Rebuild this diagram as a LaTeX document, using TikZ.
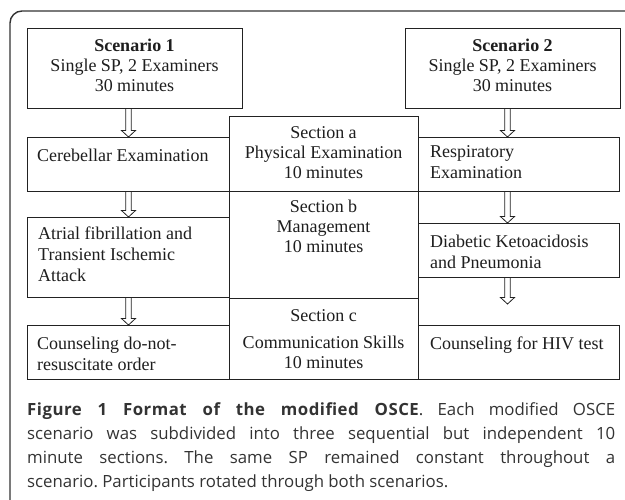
\documentclass[tikz,border=0pt]{standalone}
\usepackage{fontspec}
\setmainfont{Liberation Serif}
\newfontfamily\capfont{Open Sans}
\usetikzlibrary{calc}
\definecolor{boxline}{HTML}{222222}
\definecolor{textcol}{HTML}{1E1E1E}
\definecolor{captext}{HTML}{333333}
\definecolor{framecol}{HTML}{333333}
\frenchspacing
\begin{document}
\begin{tikzpicture}[x=1pt,y=-1pt,
  box/.style={draw=boxline, line width=1pt, rectangle, inner sep=0pt, anchor=north west},
  txt/.style={inner sep=0pt, text=textcol, font=\fontsize{18}{21}\selectfont},
  ltxt/.style={txt, align=left, anchor=north west},
  ctxt/.style={txt, align=center, anchor=north, font=\fontsize{18}{20}\selectfont},
  blockarrow/.style={draw=boxline, line width=0.8pt, line join=miter, to path={
    let \p1=(\tikztostart), \p2=(\tikztotarget) in
    (\x1-2.8pt,\y1) -- (\x1-2.8pt,\y2+6.5pt) -- (\x1-7pt,\y2+6.5pt) -- (\x1,\y2)
    -- (\x1+7pt,\y2+6.5pt) -- (\x1+2.8pt,\y2+6.5pt) -- (\x1+2.8pt,\y1)}},
  capnode/.style={inner sep=0pt, anchor=north west, text width=588pt, align=justify,
    text=captext, font=\capfont\fontsize{16.8}{24}\selectfont\frenchspacing}
]
\useasboundingbox (0,0) rectangle (625,500);
\fill[white] (0,0) rectangle (625,500);
% outer frame
\draw[draw=framecol, line width=1.4pt, rounded corners=12pt] (10,501) -- (10,11) -- (626,11);

% boxes
\node[box, minimum width=215pt, minimum height=80pt] (s1) at (27,28) {};
\node[box, minimum width=202pt, minimum height=54pt] (cer) at (27,137) {};
\node[box, minimum width=202pt, minimum height=80pt] (atr) at (27,217) {};
\node[box, minimum width=202pt, minimum height=54pt] (dnr) at (27,325) {};
\node[box, minimum width=189pt, minimum height=75pt] (sa) at (229,116) {};
\node[box, minimum width=189pt, minimum height=107pt] (sb) at (229,191) {};
\node[box, minimum width=189pt, minimum height=81pt] (sc) at (229,298) {};
\node[box, minimum width=215pt, minimum height=80pt] (s2) at (405,28) {};
\node[box, minimum width=201pt, minimum height=54pt] (resp) at (418,137) {};
\node[box, minimum width=201pt, minimum height=54pt] (diab) at (418,223) {};
\node[box, minimum width=201pt, minimum height=54pt] (hiv) at (418,325) {};

% texts
\node[ctxt] (s1t) at (134.5,37) {\strut\textbf{Scenario 1}\\Single SP, 2 Examiners\\30 minutes};
\node[ctxt] (s2t) at (512.5,37) {\strut\textbf{Scenario 2}\\Single SP, 2 Examiners\\30 minutes};
\node[ctxt] (sat) at (323.5,124) {\strut Section a\\Physical Examination\\10 minutes};
\node[ctxt] (sbt) at (323.5,198) {\strut Section b\\Management\\10 minutes};
\node[ctxt] (sct) at (323.5,307) {\strut Section c\\[7pt]Communication Skills\\10 minutes};
\node[ltxt] (cert) at (37,146.3) {\strut Cerebellar Examination};
\node[ltxt] (atrt) at (38,224.3) {\strut Atrial fibrillation and\\Transient Ischemic\\Attack};
\node[ltxt] (dnrt) at (37,334.3) {\strut Counseling do-not-\\resuscitate order};
\node[ltxt] (respt) at (430,142.3) {\strut Respiratory\\Examination};
\node[ltxt] (diabt) at (430,232.3) {\strut Diabetic Ketoacidosis\\and Pneumonia};
\node[ltxt] (hivt) at (430,334.3) {\strut Counseling for HIV test};

% arrows
\draw[blockarrow] (cer.north |- s1.south) to (cer.north);
\draw[blockarrow] (cer.south) to (atr.north);
\draw[blockarrow] (atr.south) to (dnr.north);
\draw[blockarrow] ($(s2.south -| resp.north)+(-11.5,0)$) to ($(resp.north)+(-11.5,0)$);
\draw[blockarrow] ($(resp.south)+(-11.5,0)$) to ($(diab.north)+(-11.5,0)$);
\coordinate (hivtip) at ($(hiv.north)+(-11.5,-21)$);
\draw[blockarrow] ($(diab.south)+(-11.5,0)$) to (hivtip);

% caption
\node[capnode] (cap) at (27,398.2) {\strut{\bfseries\addfontfeature{LetterSpace=3}Figure 1 Format of the modified OSCE}. Each modified OSCE\linebreak scenario was subdivided into three sequential but independent 10\linebreak minute sections. The same SP remained constant throughout a\linebreak scenario. Participants rotated through both scenarios.};
\end{tikzpicture}
\end{document}
